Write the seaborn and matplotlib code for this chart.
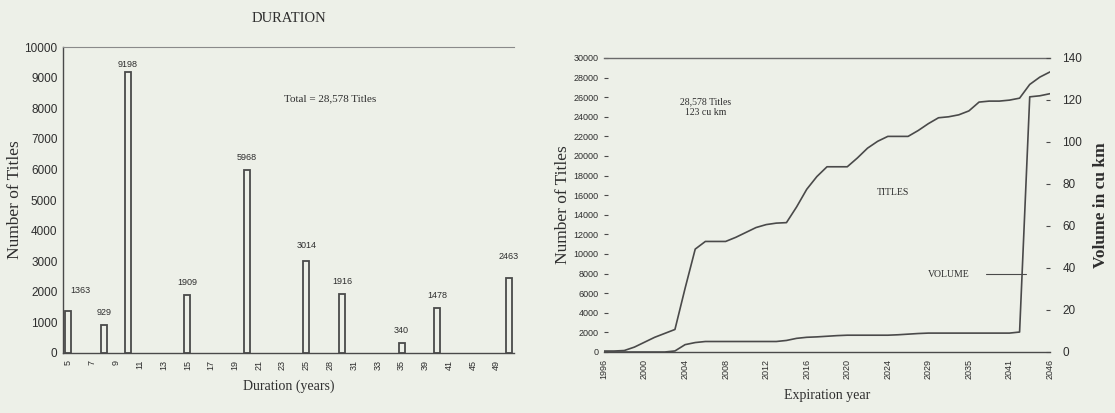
import numpy as np
import pandas as pd
import matplotlib
matplotlib.use("Agg")
import matplotlib.pyplot as plt
import seaborn as sns

# ---- Duration histogram data ----
durations = [5, 6, 7, 8, 9, 10, 11, 12, 13, 14, 15, 16, 17, 18, 19, 20, 21, 22, 23, 24,
             25, 26, 28, 30, 31, 32, 33, 34, 35, 37, 39, 40, 41, 43, 45, 47, 49, 50]
title_counts = [1363, 0, 0, 929, 0, 9198, 0, 0, 0, 0, 1909, 0, 0, 0, 0, 5968, 0, 0, 0, 0,
                3014, 0, 0, 1916, 0, 0, 0, 0, 340, 0, 0, 1478, 0, 0, 0, 0, 0, 2463]

# ---- Expiration data ----
expiration_years = [1996, 1997, 1998, 1999, 2000, 2001, 2002, 2003, 2004, 2005, 2006, 2007,
                    2008, 2009, 2010, 2011, 2012, 2013, 2014, 2015, 2016, 2017, 2018, 2019,
                    2020, 2021, 2022, 2023, 2024, 2025, 2026, 2027, 2029, 2030, 2031, 2033,
                    2035, 2036, 2038, 2040, 2041, 2042, 2044, 2045, 2046]
cumulative_titles = [100, 100, 150, 500, 1000, 1500, 1900, 2300, 6500, 10500, 11280, 11280,
                     11280, 11700, 12200, 12700, 13000, 13150, 13200, 14800, 16600, 17900,
                     18900, 18900, 18900, 19800, 20800, 21500, 22000, 22000, 22000, 22600,
                     23300, 23900, 24000, 24200, 24600, 25500, 25600, 25600, 25700, 25900,
                     27300, 28050, 28578]
cumulative_volume = [0, 0, 0, 0, 0, 0, 0, 0.5, 3.5, 4.5, 5, 5,
                     5, 5, 5, 5, 5, 5, 5.5, 6.5, 7, 7.2,
                     7.5, 7.8, 8, 8, 8, 8, 8, 8.2, 8.5, 8.8,
                     9, 9, 9, 9, 9, 9, 9, 9, 9, 9.5,
                     121.5, 122, 123]

duration_ticks = ["5", "7", "9", "11", "13", "15", "17", "19", "21", "23", "25", "28",
                  "31", "33", "35", "39", "41", "45", "49"]
year_ticks = ["1996", "2000", "2004", "2008", "2012", "2016", "2020", "2024", "2029",
              "2035", "2041", "2046"]

BG = "#edf0e8"
INK = "#4a4a4a"
TXT = "#2e2e2e"

sns.set_theme(style="white")
plt.rcParams["font.family"] = ["Liberation Serif", "DejaVu Serif"]
plt.rcParams["axes.facecolor"] = BG
plt.rcParams["figure.facecolor"] = BG

fig = plt.figure(figsize=(11.15, 4.13), dpi=100)
SANS = ["Liberation Sans", "DejaVu Sans"]

# ================= Left panel: duration bars =================
ax1 = fig.add_axes([0.0565, 0.1453, 0.4045, 0.7407])
dur_df = pd.DataFrame({"duration": [str(d) for d in durations], "titles": title_counts})
sns.barplot(data=dur_df, x="duration", y="titles", order=dur_df["duration"].tolist(),
            color=BG, edgecolor=INK, linewidth=1.3, width=0.5, saturation=1, ax=ax1)
for patch in ax1.patches:
    if patch.get_height() == 0:
        patch.set_linewidth(0.6)
ax1.set_xlim(-0.45, len(durations) - 0.55)
ax1.set_ylim(0, 10000)
ax1.set_yticks(np.arange(0, 10001, 1000))
ax1.set_yticklabels([str(v) for v in range(0, 10001, 1000)], family=SANS, fontsize=8.5, color=TXT)
tick_pos = [durations.index(int(t)) for t in duration_ticks]
ax1.set_xticks(tick_pos)
ax1.set_xticklabels(duration_ticks, rotation=90, family=SANS, fontsize=6.5, color=TXT)
ax1.tick_params(axis="x", length=0, pad=5)
ax1.tick_params(axis="y", length=4, width=0.8, direction="inout", colors=INK, pad=2)
ax1.tick_params(axis="y", labelcolor=TXT)
for side in ("left", "bottom"):
    ax1.spines[side].set_color(INK)
    ax1.spines[side].set_linewidth(1.0)
ax1.spines["right"].set_visible(False)
ax1.spines["top"].set_color("#8a8a8a")
ax1.spines["top"].set_linewidth(0.8)
ax1.set_xlabel("Duration (years)", fontsize=10, color=TXT, labelpad=7)
ax1.set_ylabel("Number of Titles", fontsize=12.5, color=TXT, labelpad=1)
ax1.set_title("DURATION", fontsize=10.5, color=TXT, pad=18)

# value labels above the non-empty bars
special = {9198: (0, 5), 2463: (0, 15), 1363: (9, 15), 3014: (0, 11)}
for i, v in enumerate(title_counts):
    if v > 0:
        dx, dy = special.get(v, (0, 9))
        ax1.annotate(str(v), (i, v), xytext=(dx, dy), textcoords="offset points",
                     ha="center", va="center", family=SANS, fontsize=6.5, color=TXT)
ax1.text(22, 8300, "Total = 28,578 Titles", ha="center", va="center", fontsize=8, color=TXT)

# ================= Right panel: cumulative expirations =================
ax2 = fig.add_axes([0.5417, 0.1477, 0.4000, 0.7119])
pos = np.arange(len(expiration_years))
exp_df = pd.DataFrame({"pos": pos, "titles": cumulative_titles, "volume": cumulative_volume})
sns.lineplot(data=exp_df, x="pos", y="titles", color=INK, linewidth=1.2, ax=ax2)
ax2.set_xlim(0, len(expiration_years) - 1)
ax2.set_ylim(0, 30000)
ax2.set_yticks(np.arange(0, 30001, 2000))
ax2.set_yticklabels([str(v) for v in range(0, 30001, 2000)], family=SANS, fontsize=6.5, color=TXT)
ax2.set_xticks([expiration_years.index(int(y)) for y in year_ticks])
ax2.set_xticklabels(year_ticks, rotation=90, family=SANS, fontsize=6.5, color=TXT)
ax2.tick_params(axis="x", length=0, pad=5)
ax2.tick_params(axis="y", length=3, width=0.8, direction="in", colors=INK, pad=4)
ax2.tick_params(axis="y", labelcolor=TXT)
for side in ("left", "right"):
    ax2.spines[side].set_visible(False)
ax2.spines["bottom"].set_color(INK)
ax2.spines["bottom"].set_linewidth(1.0)
ax2.spines["top"].set_color("#6a6a6a")
ax2.spines["top"].set_linewidth(1.0)
ax2.set_xlabel("Expiration year", fontsize=10, color=TXT, labelpad=7)
ax2.set_ylabel("Number of Titles", fontsize=12.5, color=TXT, labelpad=2)

ax3 = ax2.twinx()
sns.lineplot(data=exp_df, x="pos", y="volume", color=INK, linewidth=1.2, ax=ax3)
ax3.set_ylim(0, 140)
ax3.set_yticks(np.arange(0, 141, 20))
ax3.set_yticklabels([str(v) for v in range(0, 141, 20)], family=SANS, fontsize=8.5, color=TXT)
ax3.tick_params(axis="y", length=3, width=0.8, direction="in", colors=INK, pad=9)
ax3.tick_params(axis="y", labelcolor=TXT)
for side in ("left", "right", "top", "bottom"):
    ax3.spines[side].set_visible(False)
ax3.set_ylabel("Volume in cu km", fontsize=12.5, fontweight="bold", color=TXT,
               rotation=90, labelpad=8)

ax2.text(10, 25000, "28,578 Titles\n123 cu km", ha="center", va="center",
         fontsize=7, color=TXT, linespacing=1.3)
ax2.text(28.5, 16300, "TITLES", ha="center", va="center", fontsize=7, color=TXT)
ax3.text(34, 37, "VOLUME", ha="center", va="center", fontsize=7, color=TXT)
ax3.plot([37.7, 41.6], [37, 37], color=INK, linewidth=0.8)

fig.savefig("out.png", dpi=100, facecolor=BG)
